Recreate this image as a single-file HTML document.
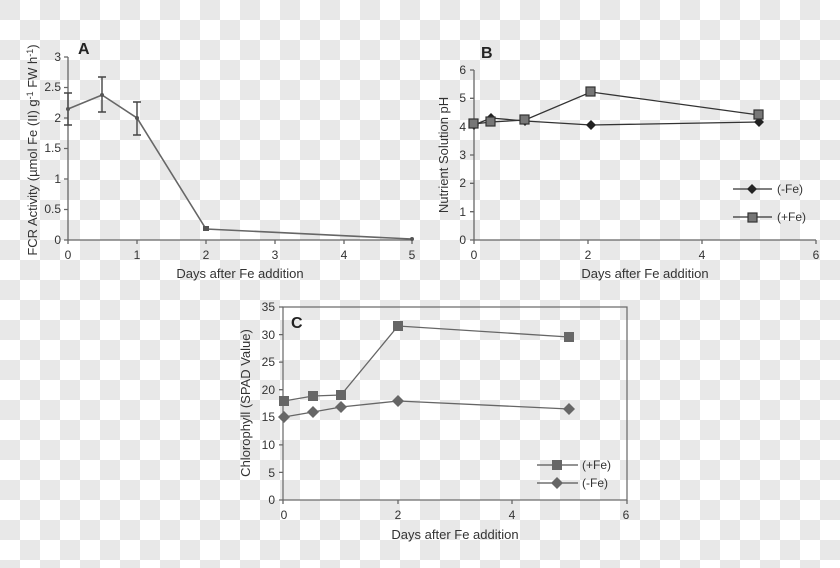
<!DOCTYPE html>
<html><head><meta charset="utf-8"><style>
html,body{margin:0;padding:0}
body{width:840px;height:568px;overflow:hidden;
background-color:#fff;
background-image:linear-gradient(45deg,#e8e8e8 25%,transparent 25%,transparent 75%,#e8e8e8 75%),linear-gradient(45deg,#e8e8e8 25%,transparent 25%,transparent 75%,#e8e8e8 75%);
background-size:40px 40px;background-position:20px 0,0 20px;}
svg{position:absolute;left:0;top:0}
text{font-family:"Liberation Sans",sans-serif;font-size:12px;fill:#333}
.b{font-weight:bold;font-size:16px;fill:#222}
.t{font-size:13px}
</style></head><body>
<svg width="840" height="568" viewBox="0 0 840 568">
<!-- Panel A -->
<g stroke="#666" stroke-width="1.3" fill="none">
<line x1="68" y1="57" x2="68" y2="240"/><line x1="68" y1="240" x2="412" y2="240"/>
<path d="M64 57h4M64 87.5h4M64 118h4M64 148.5h4M64 179h4M64 209.5h4M64 240h4"/>
<path d="M68 240v4M137 240v4M206 240v4M275 240v4M344 240v4M412 240v4"/>
</g>
<g text-anchor="end">
<text x="61" y="61">3</text><text x="61" y="91">2.5</text><text x="61" y="122">2</text><text x="61" y="152">1.5</text><text x="61" y="183">1</text><text x="61" y="213">0.5</text><text x="61" y="244">0</text>
</g>
<g text-anchor="middle">
<text x="68" y="259">0</text><text x="137" y="259">1</text><text x="206" y="259">2</text><text x="275" y="259">3</text><text x="344" y="259">4</text><text x="412" y="259">5</text>
<text x="240" y="278" class="t">Days after Fe addition</text>
</g>
<text class="b" x="78" y="54">A</text>
<text class="t" transform="translate(37,150) rotate(-90)" text-anchor="middle">FCR Activity (µmol Fe (II) g<tspan dy="-4" font-size="9">-1</tspan><tspan dy="4"> FW h</tspan><tspan dy="-4" font-size="9">-1</tspan><tspan dy="4">)</tspan></text>
<polyline points="68,109 102,95 137,118 206,229 412,239" stroke="#666" stroke-width="1.6" fill="none"/>
<g stroke="#444" stroke-width="1.4">
<path d="M68 93v32M64 93h8M64 125h8"/>
<path d="M102 77v35M98 77h8M98 112h8"/>
<path d="M137 102v33M133 102h8M133 135h8"/>
</g>
<g fill="#555"><circle cx="68" cy="109" r="2"/><circle cx="102" cy="95" r="2"/><circle cx="137" cy="118" r="2"/><rect x="203" y="226" width="6" height="5"/><circle cx="412" cy="239" r="2"/></g>

<!-- Panel B -->
<g stroke="#666" stroke-width="1.3" fill="none">
<line x1="474" y1="70" x2="474" y2="240"/><line x1="474" y1="240" x2="816" y2="240"/>
<path d="M470 70h4M470 98.3h4M470 126.7h4M470 155h4M470 183.3h4M470 211.7h4M470 240h4"/>
<path d="M474 240v4M588 240v4M702 240v4M816 240v4"/>
</g>
<g text-anchor="end">
<text x="466" y="74">6</text><text x="466" y="102">5</text><text x="466" y="131">4</text><text x="466" y="159">3</text><text x="466" y="187">2</text><text x="466" y="216">1</text><text x="466" y="244">0</text>
</g>
<g text-anchor="middle">
<text x="474" y="259">0</text><text x="588" y="259">2</text><text x="702" y="259">4</text><text x="816" y="259">6</text>
<text x="645" y="278" class="t">Days after Fe addition</text>
</g>
<text class="b" x="481" y="58">B</text>
<text class="t" transform="translate(448,155) rotate(-90)" text-anchor="middle">Nutrient Solution pH</text>
<polyline points="474,125 491,118 525,121 591,125 759,122" stroke="#333" stroke-width="1.3" fill="none"/>
<polyline points="474,124 491,122 525,120 591,92 759,115" stroke="#333" stroke-width="1.3" fill="none"/>
<g fill="#222">
<path d="M474 120l5 5-5 5-5-5z"/><path d="M491 113l5 5-5 5-5-5z"/><path d="M525 116l5 5-5 5-5-5z"/><path d="M591 120l5 5-5 5-5-5z"/><path d="M759 117l5 5-5 5-5-5z"/>
</g>
<g fill="#777" stroke="#333" stroke-width="1.2">
<rect x="469" y="119" width="9" height="9"/><rect x="486" y="117" width="9" height="9"/><rect x="520" y="115" width="9" height="9"/><rect x="586" y="87" width="9" height="9"/><rect x="754" y="110" width="9" height="9"/>
</g>
<line x1="733" y1="189" x2="772" y2="189" stroke="#333" stroke-width="1.3"/>
<path d="M752 184l5 5-5 5-5-5z" fill="#222"/>
<text x="777" y="193">(-Fe)</text>
<line x1="733" y1="217" x2="772" y2="217" stroke="#333" stroke-width="1.3"/>
<rect x="748" y="213" width="9" height="9" fill="#777" stroke="#333" stroke-width="1.2"/>
<text x="777" y="221">(+Fe)</text>

<!-- Panel C -->
<rect x="283" y="307" width="344" height="193" fill="none" stroke="#666" stroke-width="1.2"/>
<g stroke="#666" stroke-width="1.3" fill="none">
<path d="M279 307h4M279 334.6h4M279 362.1h4M279 389.7h4M279 417.3h4M279 444.9h4M279 472.4h4M279 500h4"/>
<path d="M283 500v4M398 500v4M512 500v4M627 500v4"/>
</g>
<g text-anchor="end">
<text x="275" y="311">35</text><text x="275" y="339">30</text><text x="275" y="366">25</text><text x="275" y="394">20</text><text x="275" y="421">15</text><text x="275" y="449">10</text><text x="275" y="477">5</text><text x="275" y="504">0</text>
</g>
<g text-anchor="middle">
<text x="284" y="519">0</text><text x="398" y="519">2</text><text x="512" y="519">4</text><text x="626" y="519">6</text>
<text x="455" y="539" class="t">Days after Fe addition</text>
</g>
<text class="b" x="291" y="328">C</text>
<text class="t" transform="translate(250,403) rotate(-90)" text-anchor="middle">Chlorophyll (SPAD Value)</text>
<polyline points="284,401 313,396 341,395 398,326 569,337" stroke="#666" stroke-width="1.3" fill="none"/>
<polyline points="284,417 313,412 341,407 398,401 569,409" stroke="#666" stroke-width="1.3" fill="none"/>
<g fill="#666">
<rect x="279" y="396" width="10" height="10"/><rect x="308" y="391" width="10" height="10"/><rect x="336" y="390" width="10" height="10"/><rect x="393" y="321" width="10" height="10"/><rect x="564" y="332" width="10" height="10"/>
<path d="M284 411l6 6-6 6-6-6z"/><path d="M313 406l6 6-6 6-6-6z"/><path d="M341 401l6 6-6 6-6-6z"/><path d="M398 395l6 6-6 6-6-6z"/><path d="M569 403l6 6-6 6-6-6z"/>
</g>
<line x1="537" y1="465" x2="578" y2="465" stroke="#555" stroke-width="1.3"/>
<rect x="552" y="460" width="10" height="10" fill="#666"/>
<text x="582" y="469">(+Fe)</text>
<line x1="537" y1="483" x2="578" y2="483" stroke="#555" stroke-width="1.3"/>
<path d="M557 477l6 6-6 6-6-6z" fill="#666"/>
<text x="582" y="487">(-Fe)</text>
</svg>
</body></html>
